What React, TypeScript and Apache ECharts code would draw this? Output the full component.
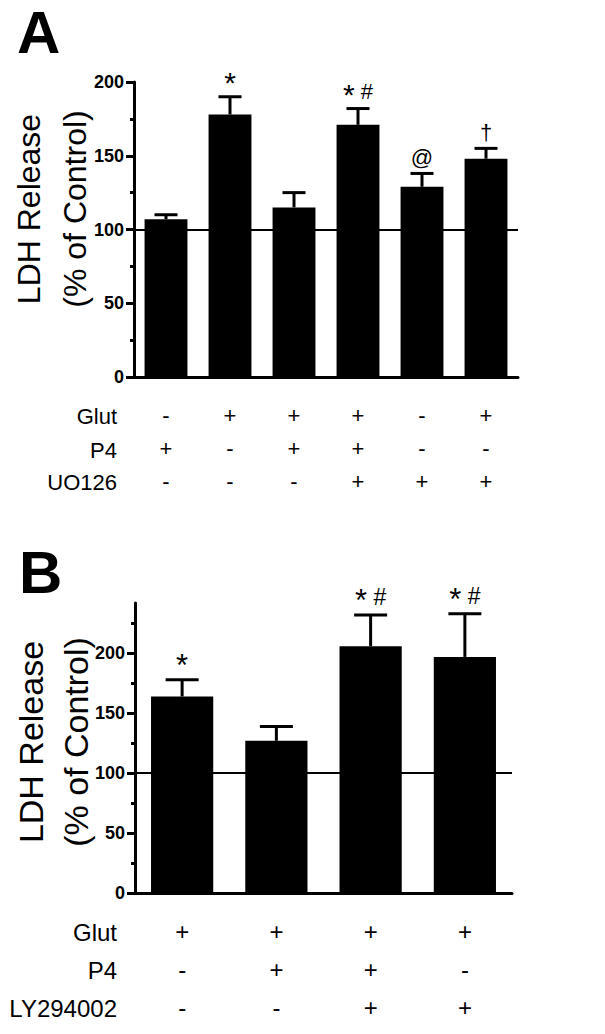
import React, { useEffect, useRef } from "react";
import * as echarts from "echarts";

// Panel A data
const glutA = ["-", "+", "+", "+", "-", "+"];
const p4A = ["+", "-", "+", "+", "-", "-"];
const uoA = ["-", "-", "-", "+", "+", "+"];
const valuesA = [107, 178, 115, 171, 129, 148];
const errorsA = [3, 12, 10, 11, 9, 7];
const notesA = ["", "*", "", "* #", "@", "†"];
const rowLabelsA = ["Glut", "P4", "UO126"];

// Panel B data
const glutB = ["+", "+", "+", "+"];
const p4B = ["-", "+", "+", "-"];
const lyB = ["-", "-", "+", "+"];
const valuesB = [164, 127, 206, 197];
const errorsB = [14, 12, 26, 36];
const notesB = ["*", "", "* #", "* #"];
const rowLabelsB = ["Glut", "P4", "LY294002"];

const majorTicks = [0, 50, 100, 150, 200];
const minorTicksA = [25, 75, 125, 175];
const minorTicksB = [25, 75, 125, 175, 225];

const FONT = "'Liberation Sans', Arial, Helvetica, sans-serif";

function buildCats(a: string[], b: string[], c: string[]) {
  return a.map((v, i) => `${v}\n${b[i]}\n${c[i]}`);
}

function errSeries(
  axisIdx: number,
  vals: number[],
  errs: number[],
  notes: string[],
  capW: number,
  fs: number
) {
  return {
    type: "custom",
    xAxisIndex: axisIdx,
    yAxisIndex: axisIdx * 2,
    z: 5,
    data: vals.map((v, i) => [i, v, v + errs[i]]),
    encode: { x: 0, y: [1, 2] },
    renderItem: (params: any, api: any) => {
      const i = api.value(0);
      const top = api.coord([i, api.value(1)]);
      const cap = api.coord([i, api.value(2)]);
      const note = notes[params.dataIndex];
      const children: any[] = [
        {
          type: "line",
          shape: { x1: top[0], y1: top[1], x2: cap[0], y2: cap[1] },
          style: { stroke: "#000", lineWidth: 3 },
        },
        {
          type: "line",
          shape: { x1: cap[0] - capW / 2, y1: cap[1], x2: cap[0] + capW / 2, y2: cap[1] },
          style: { stroke: "#000", lineWidth: 3 },
        },
      ];
      if (note) {
        children.push({
          type: "text",
          x: cap[0],
          y: cap[1] - 5,
          style: {
            text: note.replace(/\*/g, "{s|*}"),
            fill: "#000",
            font: `${fs}px ${FONT}`,
            align: "center",
            verticalAlign: "bottom",
            rich: {
              s: { fontSize: fs + 8, fontFamily: FONT, fill: "#000", padding: [0, 0, -6, 0] },
            },
          },
        });
      }
      return { type: "group", children };
    },
  };
}

function yAxes(gridIndex: number, max: number, minor: number[]) {
  return [
    {
      type: "value",
      gridIndex,
      min: 0,
      max,
      position: "left",
      splitLine: { show: false },
      axisLine: { show: true, lineStyle: { color: "#000", width: 3 } },
      axisTick: {
        show: true,
        customValues: majorTicks,
        length: 8,
        lineStyle: { color: "#000", width: 3 },
      },
      axisLabel: {
        customValues: majorTicks,
        color: "#000",
        fontWeight: "bold",
        fontSize: 18,
        fontFamily: FONT,
        margin: 10,
      },
    },
    {
      type: "value",
      gridIndex,
      min: 0,
      max,
      position: "left",
      splitLine: { show: false },
      axisLine: { show: false },
      axisTick: {
        show: true,
        customValues: minor,
        length: 4,
        lineStyle: { color: "#000", width: 3 },
      },
      axisLabel: { show: false },
    },
  ];
}

function xAxis(gridIndex: number, cats: string[], fs: number, lh: number, margin: number) {
  return {
    type: "category",
    gridIndex,
    data: cats,
    axisLine: { show: true, lineStyle: { color: "#000", width: 3 } },
    axisTick: { show: false },
    axisLabel: {
      interval: 0,
      color: "#000",
      fontSize: fs,
      lineHeight: lh,
      fontFamily: FONT,
      margin,
    },
  };
}

function barSeries(axisIdx: number, vals: number[], gap: string) {
  return {
    type: "bar",
    xAxisIndex: axisIdx,
    yAxisIndex: axisIdx * 2,
    data: vals,
    barCategoryGap: gap,
    itemStyle: { color: "#000" },
    markLine: {
      silent: true,
      symbol: "none",
      label: { show: false },
      lineStyle: { color: "#000", width: 2, type: "solid" },
      data: [{ yAxis: 100 }],
    },
  };
}

function rowText(labels: string[], ys: number[], fs: number) {
  return labels.map((t, i) => ({
    type: "text",
    x: 117,
    y: ys[i],
    style: {
      text: t,
      fill: "#000",
      font: `${fs}px ${FONT}`,
      align: "right",
      verticalAlign: "middle",
    },
  }));
}

export default function App() {
  const ref = useRef<HTMLDivElement>(null);
  useEffect(() => {
    if (!ref.current) return;
    const chart = echarts.init(ref.current, undefined, { renderer: "svg" });
    const catsA = buildCats(glutA, p4A, uoA);
    const catsB = buildCats(glutB, p4B, lyB);
    chart.setOption({
      animation: false,
      backgroundColor: "#fff",
      grid: [
        { left: 134, top: 82, width: 384, height: 295 },
        { left: 135, top: 603, width: 377, height: 290 },
      ],
      xAxis: [xAxis(0, catsA, 22, 33, 22), xAxis(1, catsB, 24, 38, 19)],
      yAxis: [...yAxes(0, 200, minorTicksA), ...yAxes(1, 242, minorTicksB)],
      series: [
        barSeries(0, valuesA, "33%"),
        errSeries(0, valuesA, errorsA, notesA, 23, 22),
        barSeries(1, valuesB, "34%"),
        errSeries(1, valuesB, errorsB, notesB, 33, 23),
      ],
      graphic: [
        {
          type: "text",
          x: 17,
          y: 32,
          style: { text: "A", fill: "#000", font: `bold 60px ${FONT}`, align: "left", verticalAlign: "middle" },
        },
        {
          type: "text",
          x: 19,
          y: 572,
          style: { text: "B", fill: "#000", font: `bold 60px ${FONT}`, align: "left", verticalAlign: "middle" },
        },
        {
          type: "text",
          x: 29,
          y: 209,
          rotation: Math.PI / 2,
          style: { text: "LDH Release", fill: "#000", font: `32px ${FONT}`, align: "center", verticalAlign: "middle" },
        },
        {
          type: "text",
          x: 75,
          y: 209,
          rotation: Math.PI / 2,
          style: { text: "(% of Control)", fill: "#000", font: `32px ${FONT}`, align: "center", verticalAlign: "middle" },
        },
        {
          type: "text",
          x: 31,
          y: 742,
          rotation: Math.PI / 2,
          style: { text: "LDH Release", fill: "#000", font: `34px ${FONT}`, align: "center", verticalAlign: "middle" },
        },
        {
          type: "text",
          x: 76,
          y: 742,
          rotation: Math.PI / 2,
          style: { text: "(% of Control)", fill: "#000", font: `34px ${FONT}`, align: "center", verticalAlign: "middle" },
        },
        ...rowText(rowLabelsA, [416, 450, 482], 22),
        ...rowText(rowLabelsB, [932, 970, 1008], 24),
      ],
    });
    return () => chart.dispose();
  }, []);
  return (
    <div
      ref={ref}
      style={{ position: "fixed", left: 0, top: 0, width: 605, height: 1034, background: "#fff" }}
    />
  );
}
